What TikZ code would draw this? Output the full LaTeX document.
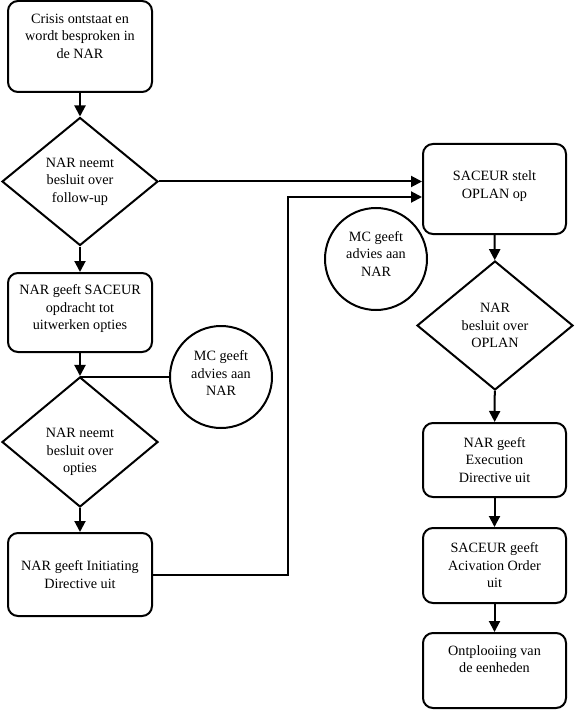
\documentclass[tikz,border=0pt]{standalone}
\usepackage{fontspec}
\setmainfont{Liberation Serif}
\usepackage{tikz}
\usetikzlibrary{shapes.geometric, arrows.meta, positioning}

% extra ruimte onder/boven de tekst in een vorm
\newcommand{\padbelow}[1]{\rule[-#1]{0pt}{#1}}
\newcommand{\padabove}[1]{\rule{0pt}{#1}}

\begin{document}
\begin{tikzpicture}[x=1pt, y=-1pt,
		every node/.style={font=\fontsize{14.2}{17.5}\selectfont, align=center},
		stap/.style={draw, line width=2pt, rounded corners=10pt, minimum width=144pt, inner sep=2pt},
		besluit/.style={draw, line width=2pt, diamond, aspect=1.22, inner sep=0pt, minimum width=156pt, minimum height=128pt},
		advies/.style={draw, line width=2pt, circle, inner sep=0pt, minimum size=102pt},
		pijl/.style={line width=2pt, -{Triangle[length=11pt, width=11pt]}},
		lijn/.style={line width=2pt}]
	\useasboundingbox (0,0) rectangle (574,711);

	% linker kolom
	\node[stap, minimum height=91pt] (crisis) at (80,46.5) {Crisis ontstaat en\\wordt besproken in\\de NAR\padbelow{21pt}};
	\node[besluit] (followup) at (80,181.5) {NAR neemt\\besluit over\\follow-up};
	\node[stap, minimum height=79pt] (opdracht) at (80,312.5) {NAR geeft SACEUR\\opdracht tot\\uitwerken opties\padbelow{11pt}};
	\node[besluit, minimum height=130pt] (opties) at (80,442) {\padabove{30pt}NAR neemt\\besluit over\\opties};
	\node[stap, minimum height=83pt] (initiating) at (80,574.5) {NAR geeft Initiating\\Directive uit};
	\node[advies] (mcopties) at (221,377) {MC geeft\\advies aan\\NAR\padbelow{8pt}};

	% rechter kolom
	\node[stap, minimum width=143pt, minimum height=90pt] (oplan) at (494.5,189) {SACEUR stelt\\OPLAN op\padbelow{9pt}};
	\node[advies] (mcoplan) at (376,259) {MC geeft\\advies aan\\NAR\padbelow{10pt}};
	\node[besluit, minimum height=129pt] (oplanbesluit) at (495,325.5) {NAR\\besluit over\\OPLAN};
	\node[stap, minimum width=143pt, minimum height=74pt] (execution) at (494.5,460) {NAR geeft\\Execution\\Directive uit};
	\node[stap, minimum width=143pt, minimum height=75pt] (activation) at (494.5,565.5) {SACEUR geeft\\Acivation Order\\uit};
	\node[stap, minimum width=143pt, minimum height=75pt] (ontplooiing) at (494.5,670.5) {Ontplooiing van\\de eenheden\padbelow{23pt}};

	% verbindingen
	\draw[pijl] (crisis) -- (followup);
	\draw[pijl] (followup) -- (opdracht);
	\draw[pijl] (opdracht) -- (opties);
	\draw[pijl] (opties) -- (initiating);
	\draw[lijn] (mcopties.west) -- (mcopties.west -| opties.north);
	\draw[pijl] (followup.east) -- (followup.east -| oplan.west);
	\coordinate (knik) at (288,197);
	\draw[pijl] (initiating.east) -| (knik) -- (knik -| oplan.west);
	\draw[pijl] (oplan) -- (oplanbesluit);
	\draw[pijl] (oplanbesluit) -- (execution);
	\draw[pijl] (execution) -- (activation);
	\draw[pijl] (activation) -- (ontplooiing);
\end{tikzpicture}
\end{document}
